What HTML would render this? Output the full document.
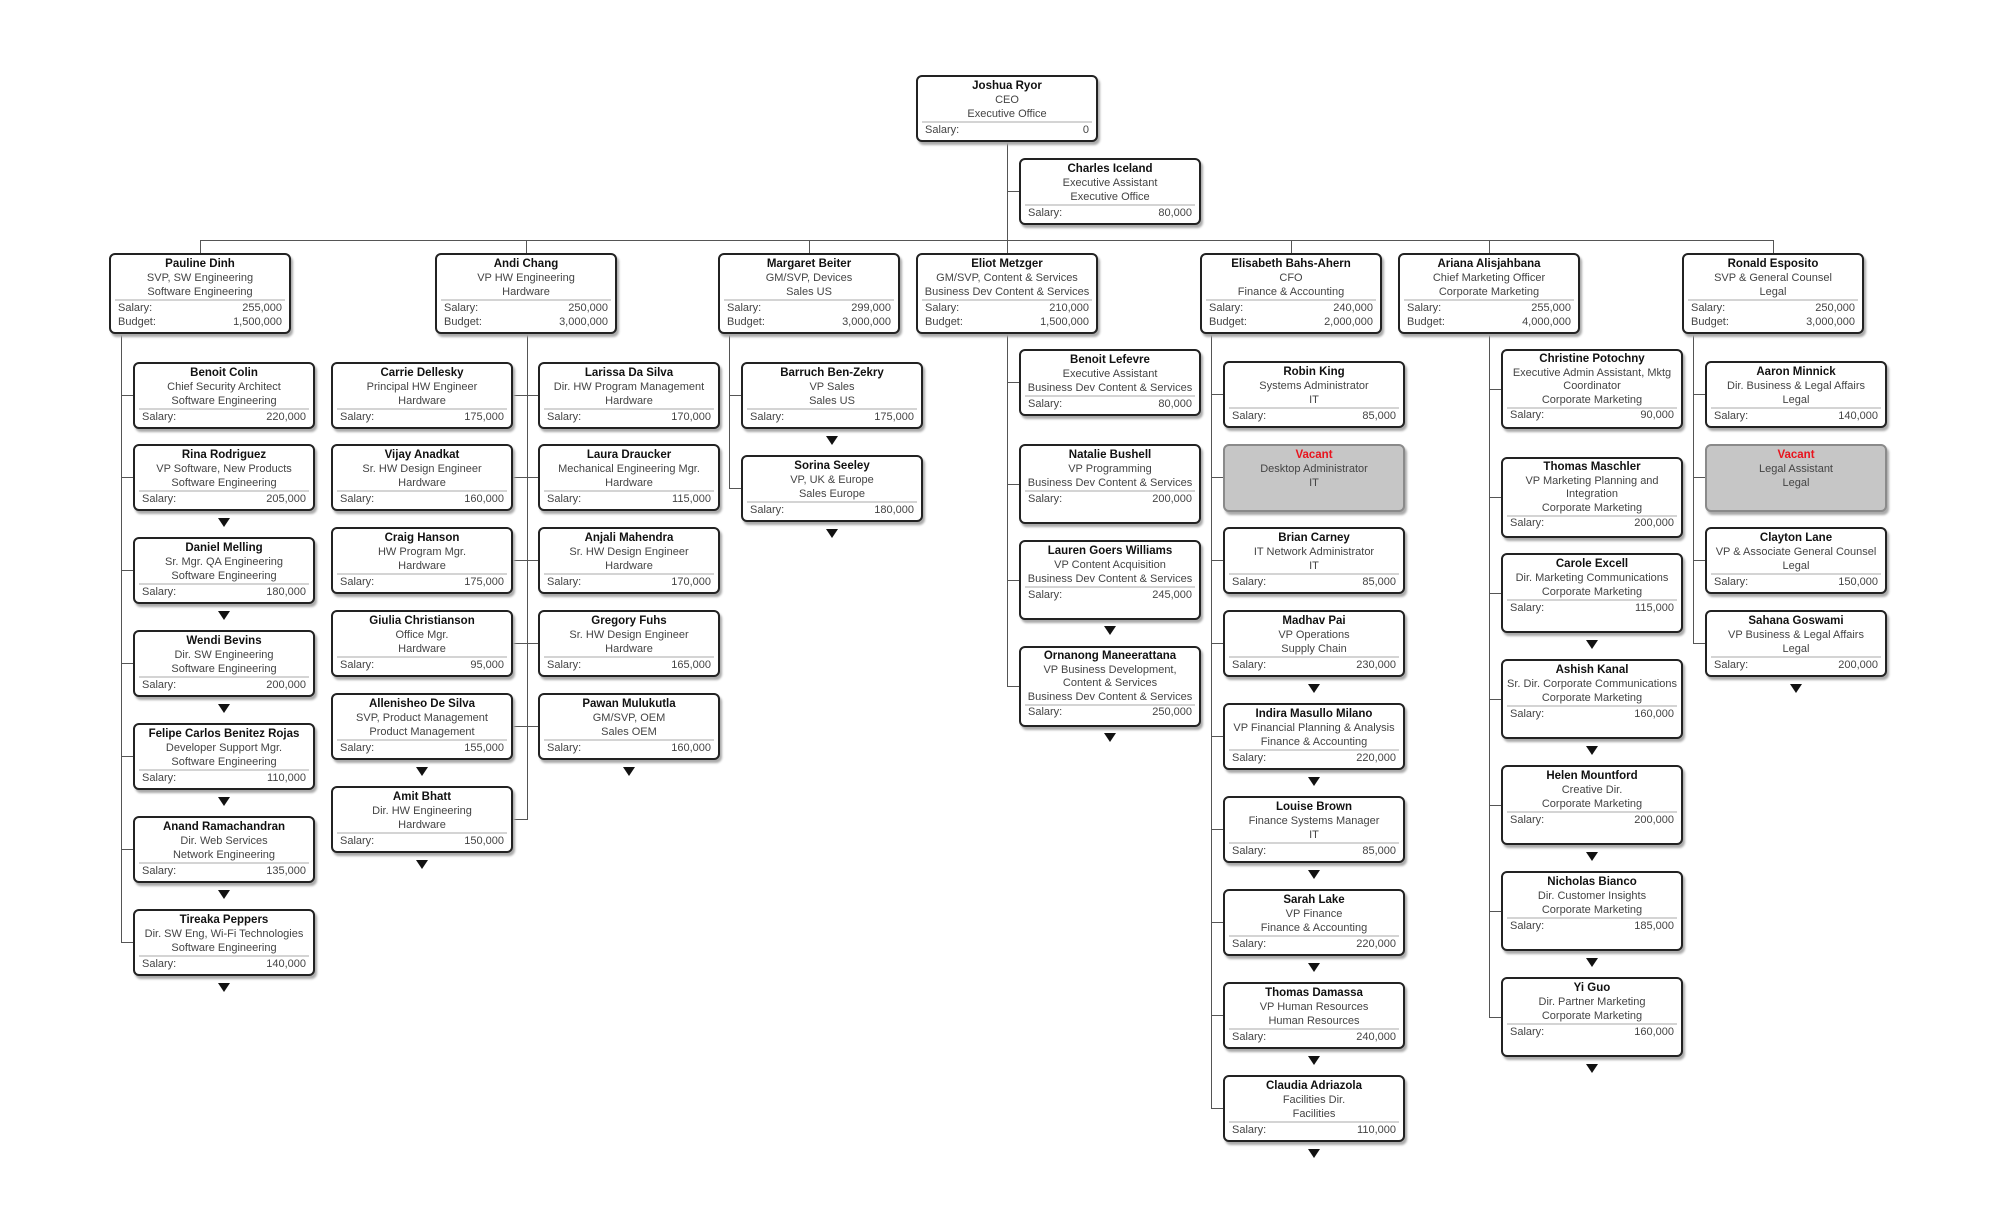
<!DOCTYPE html>
<html><head><meta charset="utf-8"><style>
body{margin:0;width:2000px;height:1215px;background:#fff;position:relative;overflow:hidden}
.n{position:absolute;width:182px;height:67px;box-sizing:border-box;border:2px solid #222;border-radius:6px;background:#fff;box-shadow:2px 3px 2px #aaa;font:11px "Liberation Sans",sans-serif;color:#444;text-align:center;line-height:14px;padding-top:2px;white-space:nowrap}
.t{height:81px}
.n b{display:block;color:#111;font-size:11.5px}
.n i{display:block;font-style:normal}
.r{display:flex;justify-content:space-between;padding:0 7px;color:#444}
.sp{margin:0 4px;border-top:2px solid #d4d4d4}
.vac{background:#c6c6c6;border-color:#8a8a8a}
.vac b{color:#e8141e}
.h,.v{position:absolute;background:#555}
.h{height:1px}.v{width:1px}
.tr{position:absolute;width:0;height:0;border-left:6px solid transparent;border-right:6px solid transparent;border-top:9px solid #111}
</style></head><body>

<div class="v" style="left:1007px;top:141px;height:112px"></div>
<div class="h" style="left:1007px;top:191px;width:12px"></div>
<div class="h" style="left:200px;top:240px;width:1573px"></div>
<div class="v" style="left:200px;top:240px;height:13px"></div>
<div class="v" style="left:526px;top:240px;height:13px"></div>
<div class="v" style="left:809px;top:240px;height:13px"></div>
<div class="v" style="left:1291px;top:240px;height:13px"></div>
<div class="v" style="left:1489px;top:240px;height:13px"></div>
<div class="v" style="left:1773px;top:240px;height:13px"></div>

<div class="v" style="left:121px;top:334px;height:609px"></div>
<div class="h" style="left:121px;top:395px;width:12px"></div>
<div class="h" style="left:121px;top:477px;width:12px"></div>
<div class="h" style="left:121px;top:570px;width:12px"></div>
<div class="h" style="left:121px;top:663px;width:12px"></div>
<div class="h" style="left:121px;top:756px;width:12px"></div>
<div class="h" style="left:121px;top:849px;width:12px"></div>
<div class="h" style="left:121px;top:942px;width:12px"></div>
<div class="v" style="left:527px;top:334px;height:486px"></div>
<div class="h" style="left:513px;top:395px;width:25px"></div>
<div class="h" style="left:513px;top:477px;width:25px"></div>
<div class="h" style="left:513px;top:560px;width:25px"></div>
<div class="h" style="left:513px;top:643px;width:25px"></div>
<div class="h" style="left:513px;top:726px;width:25px"></div>
<div class="h" style="left:513px;top:819px;width:14px"></div>
<div class="v" style="left:729px;top:334px;height:155px"></div>
<div class="h" style="left:729px;top:395px;width:12px"></div>
<div class="h" style="left:729px;top:488px;width:12px"></div>
<div class="v" style="left:1007px;top:334px;height:353px"></div>
<div class="h" style="left:1007px;top:382px;width:12px"></div>
<div class="h" style="left:1007px;top:484px;width:12px"></div>
<div class="h" style="left:1007px;top:580px;width:12px"></div>
<div class="h" style="left:1007px;top:686px;width:12px"></div>
<div class="v" style="left:1211px;top:334px;height:775px"></div>
<div class="h" style="left:1211px;top:394px;width:12px"></div>
<div class="h" style="left:1211px;top:477px;width:12px"></div>
<div class="h" style="left:1211px;top:560px;width:12px"></div>
<div class="h" style="left:1211px;top:643px;width:12px"></div>
<div class="h" style="left:1211px;top:736px;width:12px"></div>
<div class="h" style="left:1211px;top:829px;width:12px"></div>
<div class="h" style="left:1211px;top:922px;width:12px"></div>
<div class="h" style="left:1211px;top:1015px;width:12px"></div>
<div class="h" style="left:1211px;top:1108px;width:12px"></div>
<div class="v" style="left:1489px;top:334px;height:684px"></div>
<div class="h" style="left:1489px;top:389px;width:12px"></div>
<div class="h" style="left:1489px;top:497px;width:12px"></div>
<div class="h" style="left:1489px;top:593px;width:12px"></div>
<div class="h" style="left:1489px;top:699px;width:12px"></div>
<div class="h" style="left:1489px;top:805px;width:12px"></div>
<div class="h" style="left:1489px;top:911px;width:12px"></div>
<div class="h" style="left:1489px;top:1017px;width:12px"></div>
<div class="v" style="left:1693px;top:334px;height:310px"></div>
<div class="h" style="left:1693px;top:394px;width:12px"></div>
<div class="h" style="left:1693px;top:477px;width:12px"></div>
<div class="h" style="left:1693px;top:560px;width:12px"></div>
<div class="h" style="left:1693px;top:643px;width:12px"></div>

<div class="n" style="left:916px;top:75px"><b>Joshua Ryor</b><i>CEO</i><i>Executive Office</i><div class="sp"></div><div class="r"><span>Salary:</span><span>0</span></div></div>
<div class="n" style="left:1019px;top:158px"><b>Charles Iceland</b><i>Executive Assistant</i><i>Executive Office</i><div class="sp"></div><div class="r"><span>Salary:</span><span>80,000</span></div></div>

<div class="n t" style="left:109px;top:253px"><b>Pauline Dinh</b><i>SVP, SW Engineering</i><i>Software Engineering</i><div class="sp"></div><div class="r"><span>Salary:</span><span>255,000</span></div><div class="r"><span>Budget:</span><span>1,500,000</span></div></div>
<div class="n t" style="left:435px;top:253px"><b>Andi Chang</b><i>VP HW Engineering</i><i>Hardware</i><div class="sp"></div><div class="r"><span>Salary:</span><span>250,000</span></div><div class="r"><span>Budget:</span><span>3,000,000</span></div></div>
<div class="n t" style="left:718px;top:253px"><b>Margaret Beiter</b><i>GM/SVP, Devices</i><i>Sales US</i><div class="sp"></div><div class="r"><span>Salary:</span><span>299,000</span></div><div class="r"><span>Budget:</span><span>3,000,000</span></div></div>
<div class="n t" style="left:916px;top:253px"><b>Eliot Metzger</b><i>GM/SVP, Content &amp; Services</i><i>Business Dev Content &amp; Services</i><div class="sp"></div><div class="r"><span>Salary:</span><span>210,000</span></div><div class="r"><span>Budget:</span><span>1,500,000</span></div></div>
<div class="n t" style="left:1200px;top:253px"><b>Elisabeth Bahs-Ahern</b><i>CFO</i><i>Finance &amp; Accounting</i><div class="sp"></div><div class="r"><span>Salary:</span><span>240,000</span></div><div class="r"><span>Budget:</span><span>2,000,000</span></div></div>
<div class="n t" style="left:1398px;top:253px"><b>Ariana Alisjahbana</b><i>Chief Marketing Officer</i><i>Corporate Marketing</i><div class="sp"></div><div class="r"><span>Salary:</span><span>255,000</span></div><div class="r"><span>Budget:</span><span>4,000,000</span></div></div>
<div class="n t" style="left:1682px;top:253px"><b>Ronald Esposito</b><i>SVP &amp; General Counsel</i><i>Legal</i><div class="sp"></div><div class="r"><span>Salary:</span><span>250,000</span></div><div class="r"><span>Budget:</span><span>3,000,000</span></div></div>

<div class="n" style="left:133px;top:362px"><b>Benoit Colin</b><i>Chief Security Architect</i><i>Software Engineering</i><div class="sp"></div><div class="r"><span>Salary:</span><span>220,000</span></div></div>
<div class="n" style="left:133px;top:444px"><b>Rina Rodriguez</b><i>VP Software, New Products</i><i>Software Engineering</i><div class="sp"></div><div class="r"><span>Salary:</span><span>205,000</span></div></div>
<div class="n" style="left:133px;top:537px"><b>Daniel Melling</b><i>Sr. Mgr. QA Engineering</i><i>Software Engineering</i><div class="sp"></div><div class="r"><span>Salary:</span><span>180,000</span></div></div>
<div class="n" style="left:133px;top:630px"><b>Wendi Bevins</b><i>Dir. SW Engineering</i><i>Software Engineering</i><div class="sp"></div><div class="r"><span>Salary:</span><span>200,000</span></div></div>
<div class="n" style="left:133px;top:723px"><b>Felipe Carlos Benitez Rojas</b><i>Developer Support Mgr.</i><i>Software Engineering</i><div class="sp"></div><div class="r"><span>Salary:</span><span>110,000</span></div></div>
<div class="n" style="left:133px;top:816px"><b>Anand Ramachandran</b><i>Dir. Web Services</i><i>Network Engineering</i><div class="sp"></div><div class="r"><span>Salary:</span><span>135,000</span></div></div>
<div class="n" style="left:133px;top:909px"><b>Tireaka Peppers</b><i>Dir. SW Eng, Wi-Fi Technologies</i><i>Software Engineering</i><div class="sp"></div><div class="r"><span>Salary:</span><span>140,000</span></div></div>

<div class="n" style="left:331px;top:362px"><b>Carrie Dellesky</b><i>Principal HW Engineer</i><i>Hardware</i><div class="sp"></div><div class="r"><span>Salary:</span><span>175,000</span></div></div>
<div class="n" style="left:331px;top:444px"><b>Vijay Anadkat</b><i>Sr. HW Design Engineer</i><i>Hardware</i><div class="sp"></div><div class="r"><span>Salary:</span><span>160,000</span></div></div>
<div class="n" style="left:331px;top:527px"><b>Craig Hanson</b><i>HW Program Mgr.</i><i>Hardware</i><div class="sp"></div><div class="r"><span>Salary:</span><span>175,000</span></div></div>
<div class="n" style="left:331px;top:610px"><b>Giulia Christianson</b><i>Office Mgr.</i><i>Hardware</i><div class="sp"></div><div class="r"><span>Salary:</span><span>95,000</span></div></div>
<div class="n" style="left:331px;top:693px"><b>Allenisheo De Silva</b><i>SVP, Product Management</i><i>Product Management</i><div class="sp"></div><div class="r"><span>Salary:</span><span>155,000</span></div></div>
<div class="n" style="left:331px;top:786px"><b>Amit Bhatt</b><i>Dir. HW Engineering</i><i>Hardware</i><div class="sp"></div><div class="r"><span>Salary:</span><span>150,000</span></div></div>
<div class="n" style="left:538px;top:362px"><b>Larissa Da Silva</b><i>Dir. HW Program Management</i><i>Hardware</i><div class="sp"></div><div class="r"><span>Salary:</span><span>170,000</span></div></div>
<div class="n" style="left:538px;top:444px"><b>Laura Draucker</b><i>Mechanical Engineering Mgr.</i><i>Hardware</i><div class="sp"></div><div class="r"><span>Salary:</span><span>115,000</span></div></div>
<div class="n" style="left:538px;top:527px"><b>Anjali Mahendra</b><i>Sr. HW Design Engineer</i><i>Hardware</i><div class="sp"></div><div class="r"><span>Salary:</span><span>170,000</span></div></div>
<div class="n" style="left:538px;top:610px"><b>Gregory Fuhs</b><i>Sr. HW Design Engineer</i><i>Hardware</i><div class="sp"></div><div class="r"><span>Salary:</span><span>165,000</span></div></div>
<div class="n" style="left:538px;top:693px"><b>Pawan Mulukutla</b><i>GM/SVP, OEM</i><i>Sales OEM</i><div class="sp"></div><div class="r"><span>Salary:</span><span>160,000</span></div></div>

<div class="n" style="left:741px;top:362px"><b>Barruch Ben-Zekry</b><i>VP Sales</i><i>Sales US</i><div class="sp"></div><div class="r"><span>Salary:</span><span>175,000</span></div></div>
<div class="n" style="left:741px;top:455px"><b>Sorina Seeley</b><i>VP, UK &amp; Europe</i><i>Sales Europe</i><div class="sp"></div><div class="r"><span>Salary:</span><span>180,000</span></div></div>

<div class="n" style="left:1019px;top:349px"><b>Benoit Lefevre</b><i>Executive Assistant</i><i>Business Dev Content &amp; Services</i><div class="sp"></div><div class="r"><span>Salary:</span><span>80,000</span></div></div>
<div class="n t" style="left:1019px;top:444px;height:80px"><b>Natalie Bushell</b><i>VP Programming</i><i>Business Dev Content &amp; Services</i><div class="sp"></div><div class="r"><span>Salary:</span><span>200,000</span></div></div>
<div class="n t" style="left:1019px;top:540px;height:80px"><b>Lauren Goers Williams</b><i>VP Content Acquisition</i><i>Business Dev Content &amp; Services</i><div class="sp"></div><div class="r"><span>Salary:</span><span>245,000</span></div></div>
<div class="n t" style="left:1019px;top:646px;line-height:13.5px"><b>Ornanong Maneerattana</b><i>VP Business Development,</i><i>Content &amp; Services</i><i>Business Dev Content &amp; Services</i><div class="sp"></div><div class="r"><span>Salary:</span><span>250,000</span></div></div>

<div class="n" style="left:1223px;top:361px"><b>Robin King</b><i>Systems Administrator</i><i>IT</i><div class="sp"></div><div class="r"><span>Salary:</span><span>85,000</span></div></div>
<div class="n vac" style="left:1223px;top:444px;height:68px"><b>Vacant</b><i>Desktop Administrator</i><i>IT</i></div>
<div class="n" style="left:1223px;top:527px"><b>Brian Carney</b><i>IT Network Administrator</i><i>IT</i><div class="sp"></div><div class="r"><span>Salary:</span><span>85,000</span></div></div>
<div class="n" style="left:1223px;top:610px"><b>Madhav Pai</b><i>VP Operations</i><i>Supply Chain</i><div class="sp"></div><div class="r"><span>Salary:</span><span>230,000</span></div></div>
<div class="n" style="left:1223px;top:703px"><b>Indira Masullo Milano</b><i>VP Financial Planning &amp; Analysis</i><i>Finance &amp; Accounting</i><div class="sp"></div><div class="r"><span>Salary:</span><span>220,000</span></div></div>
<div class="n" style="left:1223px;top:796px"><b>Louise Brown</b><i>Finance Systems Manager</i><i>IT</i><div class="sp"></div><div class="r"><span>Salary:</span><span>85,000</span></div></div>
<div class="n" style="left:1223px;top:889px"><b>Sarah Lake</b><i>VP Finance</i><i>Finance &amp; Accounting</i><div class="sp"></div><div class="r"><span>Salary:</span><span>220,000</span></div></div>
<div class="n" style="left:1223px;top:982px"><b>Thomas Damassa</b><i>VP Human Resources</i><i>Human Resources</i><div class="sp"></div><div class="r"><span>Salary:</span><span>240,000</span></div></div>
<div class="n" style="left:1223px;top:1075px"><b>Claudia Adriazola</b><i>Facilities Dir.</i><i>Facilities</i><div class="sp"></div><div class="r"><span>Salary:</span><span>110,000</span></div></div>

<div class="n t" style="left:1501px;top:349px;height:80px;line-height:13.5px"><b>Christine Potochny</b><i>Executive Admin Assistant, Mktg</i><i>Coordinator</i><i>Corporate Marketing</i><div class="sp"></div><div class="r"><span>Salary:</span><span>90,000</span></div></div>
<div class="n t" style="left:1501px;top:457px;line-height:13.5px"><b>Thomas Maschler</b><i>VP Marketing Planning and</i><i>Integration</i><i>Corporate Marketing</i><div class="sp"></div><div class="r"><span>Salary:</span><span>200,000</span></div></div>
<div class="n t" style="left:1501px;top:553px;height:80px"><b>Carole Excell</b><i>Dir. Marketing Communications</i><i>Corporate Marketing</i><div class="sp"></div><div class="r"><span>Salary:</span><span>115,000</span></div></div>
<div class="n t" style="left:1501px;top:659px;height:80px"><b>Ashish Kanal</b><i>Sr. Dir. Corporate Communications</i><i>Corporate Marketing</i><div class="sp"></div><div class="r"><span>Salary:</span><span>160,000</span></div></div>
<div class="n t" style="left:1501px;top:765px;height:80px"><b>Helen Mountford</b><i>Creative Dir.</i><i>Corporate Marketing</i><div class="sp"></div><div class="r"><span>Salary:</span><span>200,000</span></div></div>
<div class="n t" style="left:1501px;top:871px;height:80px"><b>Nicholas Bianco</b><i>Dir. Customer Insights</i><i>Corporate Marketing</i><div class="sp"></div><div class="r"><span>Salary:</span><span>185,000</span></div></div>
<div class="n t" style="left:1501px;top:977px;height:80px"><b>Yi Guo</b><i>Dir. Partner Marketing</i><i>Corporate Marketing</i><div class="sp"></div><div class="r"><span>Salary:</span><span>160,000</span></div></div>

<div class="n" style="left:1705px;top:361px"><b>Aaron Minnick</b><i>Dir. Business &amp; Legal Affairs</i><i>Legal</i><div class="sp"></div><div class="r"><span>Salary:</span><span>140,000</span></div></div>
<div class="n vac" style="left:1705px;top:444px;height:68px"><b>Vacant</b><i>Legal Assistant</i><i>Legal</i></div>
<div class="n" style="left:1705px;top:527px"><b>Clayton Lane</b><i>VP &amp; Associate General Counsel</i><i>Legal</i><div class="sp"></div><div class="r"><span>Salary:</span><span>150,000</span></div></div>
<div class="n" style="left:1705px;top:610px"><b>Sahana Goswami</b><i>VP Business &amp; Legal Affairs</i><i>Legal</i><div class="sp"></div><div class="r"><span>Salary:</span><span>200,000</span></div></div>

<div class="tr" style="left:218px;top:518px"></div>
<div class="tr" style="left:218px;top:611px"></div>
<div class="tr" style="left:218px;top:704px"></div>
<div class="tr" style="left:218px;top:797px"></div>
<div class="tr" style="left:218px;top:890px"></div>
<div class="tr" style="left:218px;top:983px"></div>
<div class="tr" style="left:416px;top:767px"></div>
<div class="tr" style="left:416px;top:860px"></div>
<div class="tr" style="left:623px;top:767px"></div>
<div class="tr" style="left:826px;top:436px"></div>
<div class="tr" style="left:826px;top:529px"></div>
<div class="tr" style="left:1104px;top:626px"></div>
<div class="tr" style="left:1104px;top:733px"></div>
<div class="tr" style="left:1308px;top:684px"></div>
<div class="tr" style="left:1308px;top:777px"></div>
<div class="tr" style="left:1308px;top:870px"></div>
<div class="tr" style="left:1308px;top:963px"></div>
<div class="tr" style="left:1308px;top:1056px"></div>
<div class="tr" style="left:1308px;top:1149px"></div>
<div class="tr" style="left:1586px;top:640px"></div>
<div class="tr" style="left:1586px;top:746px"></div>
<div class="tr" style="left:1586px;top:852px"></div>
<div class="tr" style="left:1586px;top:958px"></div>
<div class="tr" style="left:1586px;top:1064px"></div>
<div class="tr" style="left:1790px;top:684px"></div>

</body></html>
